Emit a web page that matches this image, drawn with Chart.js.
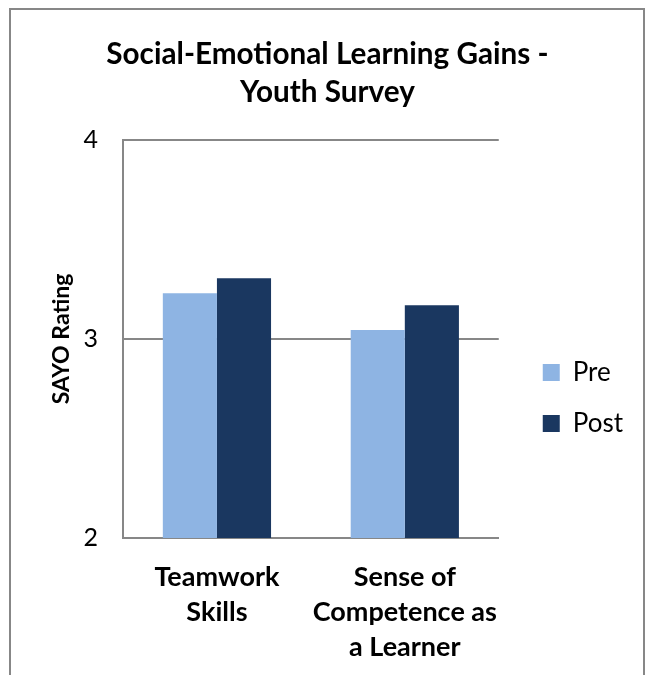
<!DOCTYPE html>
<html>
<head>
<meta charset="utf-8">
<script src="https://cdn.jsdelivr.net/npm/chart.js@4.4.1/dist/chart.umd.min.js"></script>
<style>
  html, body { margin: 0; padding: 0; background: #fff; width: 645px; height: 675px; overflow: hidden; }
  #frame { position: absolute; left: 9px; top: 8px; width: 632px; height: 720px; border: 2px solid #878787; box-sizing: content-box; }
  #wrap { position: absolute; left: 0; top: 0; width: 645px; height: 675px; }
</style>
</head>
<body>
<div id="frame"></div>
<div id="wrap"><canvas id="c" width="645" height="675"></canvas></div>
<script>
const titleLines = ["Social-Emotional Learning Gains -", "Youth Survey"];
const categories = [["Teamwork", "Skills"], ["Sense of", "Competence as", "a Learner"]];
const seriesNames = ["Pre", "Post"];
const preValues = [3.23, 3.045];
const postValues = [3.305, 3.17];
const yTitle = "SAYO Rating";
const yTicks = [2, 3, 4];

const FONT = "Lato, 'Open Sans', sans-serif";

// shift the legend a little to the right of the plot area
const legendShift = {
  id: 'legendShift',
  afterLayout(chart) {
    const l = chart.legend;
    if (l) { l.left += 19; l.right += 19; }
  }
};

const chart = new Chart(document.getElementById('c'), {
  type: 'bar',
  data: {
    labels: categories,
    datasets: [
      { label: seriesNames[0], data: preValues, backgroundColor: '#8EB4E3', borderWidth: 0 },
      { label: seriesNames[1], data: postValues, backgroundColor: '#1A3760', borderWidth: 0 }
    ]
  },
  plugins: [legendShift],
  options: {
    responsive: false,
    animation: false,
    devicePixelRatio: 1,
    layout: { padding: { left: 41, right: 31, top: 0, bottom: 0 } },
    datasets: { bar: { barPercentage: 1.0, categoryPercentage: 0.576 } },
    plugins: {
      title: {
        display: true,
        text: titleLines,
        color: '#000',
        font: { family: FONT, size: 29.7, weight: 'bold', lineHeight: 1.28 },
        padding: { top: 35, bottom: 29 }
      },
      legend: {
        position: 'right',
        align: 'center',
        title: { display: true, text: ' ', padding: { top: 109, bottom: 0 }, font: { size: 10 } },
        labels: {
          color: '#000',
          font: { family: FONT, size: 26 },
          boxWidth: 17,
          boxHeight: 17,
          padding: 25
        }
      },
      tooltip: { enabled: false }
    },
    scales: {
      x: {
        grid: { display: false, drawTicks: false },
        border: { display: true, color: '#878787', width: 2 },
        ticks: {
          color: '#000',
          font: { family: FONT, size: 27, weight: 'bold', lineHeight: 1.3 },
          padding: 22,
          maxRotation: 0,
          autoSkip: false
        },
        afterFit: (s) => { s.height = 137; }
      },
      y: {
        min: 2,
        max: 4,
        afterBuildTicks: (s) => { s.ticks = yTicks.map(v => ({ value: v })); },
        grid: { color: '#878787', lineWidth: 2, drawTicks: false },
        border: { display: true, color: '#878787', width: 2 },
        ticks: {
          color: '#000',
          font: { family: FONT, size: 25 },
          padding: 25
        },
        title: {
          display: true,
          text: yTitle,
          color: '#000',
          font: { family: FONT, size: 23, weight: 'bold' },
          padding: { top: 7, bottom: 0 }
        },
        afterFit: (s) => { s.width = 82; }
      }
    }
  }
});
</script>
</body>
</html>
